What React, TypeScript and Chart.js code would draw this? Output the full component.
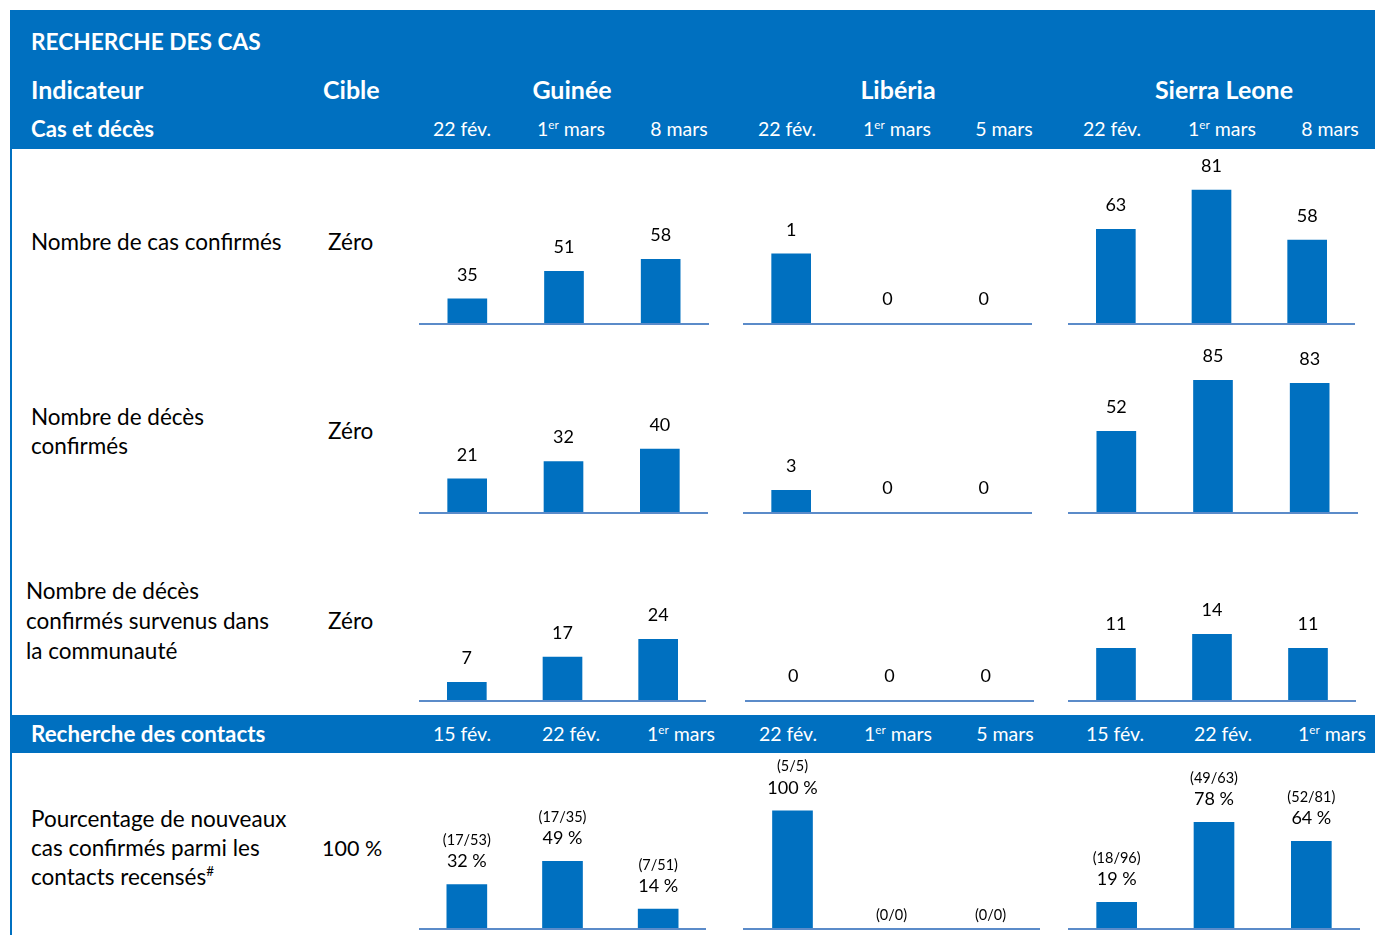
import React, { useEffect, useRef } from "react";
import { Chart, registerables } from "chart.js";
Chart.register(...registerables);

const FONT = "Lato, 'Open Sans', sans-serif";
const BLUE = "#0070C0";
const AXIS_BLUE = "#5B8BC9";

// ---- data ----
const countries = ["Guinée", "Libéria", "Sierra Leone"];
const casDates = [
  ["22 fév.", "1er mars", "8 mars"],
  ["22 fév.", "1er mars", "5 mars"],
  ["22 fév.", "1er mars", "8 mars"],
];
const contactDates = [
  ["15 fév.", "22 fév.", "1er mars"],
  ["22 fév.", "1er mars", "5 mars"],
  ["15 fév.", "22 fév.", "1er mars"],
];
const casConfirmes = [
  [35, 51, 58],
  [1, 0, 0],
  [63, 81, 58],
];
const decesConfirmes = [
  [21, 32, 40],
  [3, 0, 0],
  [52, 85, 83],
];
const decesCommunaute = [
  [7, 17, 24],
  [0, 0, 0],
  [11, 14, 11],
];
const pctContacts = [
  [32, 49, 14],
  [100, 0, 0],
  [19, 78, 64],
];
const ratioContacts = [
  ["(17/53)", "(17/35)", "(7/51)"],
  ["(5/5)", "(0/0)", "(0/0)"],
  ["(18/96)", "(49/63)", "(52/81)"],
];

// ---- layout (scales / positions) ----
type RowLayout = {
  top: number;
  baseline: number;
  xs: [number, number][];
  ranges: [number, number][];
  thickness: number;
};
const rowLayouts: RowLayout[] = [
  { top: 150, baseline: 323, xs: [[419, 709], [743, 1032], [1068, 1355]], ranges: [[21, 121.6], [0, 2.5], [20, 99.4]], thickness: 39 },
  { top: 335, baseline: 512, xs: [[419, 708], [743, 1032], [1068, 1358]], ranges: [[0, 112.4], [0, 24.5], [0, 114.2]], thickness: 39 },
  { top: 530, baseline: 700, xs: [[419, 706], [745, 1034], [1068, 1356]], ranges: [[0, 67.2], [0, 10], [0, 36.2]], thickness: 39 },
  { top: 755, baseline: 928, xs: [[419, 706], [743, 1040], [1068, 1360]], ranges: [[0, 127.2], [0, 147.5], [0, 127.7]], thickness: 40 },
];

type MiniProps = {
  left: number;
  top: number;
  width: number;
  height: number;
  labels: string[];
  values: number[];
  min: number;
  max: number;
  thickness: number;
  ratios?: string[];
};

function MiniBar(p: MiniProps) {
  const ref = useRef<HTMLCanvasElement | null>(null);
  useEffect(() => {
    if (!ref.current) return;
    const labelPlugin = {
      id: "valueLabels",
      afterDatasetsDraw(chart: any) {
        const ctx = chart.ctx;
        const meta = chart.getDatasetMeta(0);
        const area = chart.chartArea;
        ctx.save();
        // baseline
        ctx.strokeStyle = AXIS_BLUE;
        ctx.lineWidth = 2;
        ctx.beginPath();
        ctx.moveTo(area.left, area.bottom + 1);
        ctx.lineTo(area.right, area.bottom + 1);
        ctx.stroke();
        ctx.fillStyle = "#000";
        ctx.textAlign = "center";
        ctx.textBaseline = "middle";
        meta.data.forEach((el: any, i: number) => {
          const v = p.values[i];
          const x = el.x;
          const yTop = el.y;
          if (p.ratios) {
            const r = p.ratios[i];
            const empty = /\/0\)/.test(r);
            if (empty) {
              ctx.font = `14.5px ${FONT}`;
              ctx.fillText(r, x, area.bottom - 13);
            } else {
              ctx.font = `18px ${FONT}`;
              ctx.fillText(`${v} %`, x, yTop - 23);
              ctx.font = `14.5px ${FONT}`;
              ctx.fillText(r, x, yTop - 44);
            }
          } else {
            ctx.font = `18px ${FONT}`;
            ctx.fillText(String(v), x, yTop - 24);
          }
        });
        ctx.restore();
      },
    };
    const chart = new Chart(ref.current, {
      type: "bar",
      data: {
        labels: p.labels,
        datasets: [
          {
            data: p.values,
            backgroundColor: p.values.map((v) => (v > 0 ? BLUE : "rgba(0,0,0,0)")),
            borderWidth: 0,
            barThickness: p.thickness,
          },
        ],
      },
      options: {
        animation: false,
        responsive: false,
        devicePixelRatio: 1,
        layout: { padding: { left: 0, right: 0, top: 0, bottom: 3 } },
        plugins: { legend: { display: false }, tooltip: { enabled: false } },
        scales: {
          x: { display: false },
          y: { display: false, min: p.min, max: p.max },
        },
      },
      plugins: [labelPlugin],
    } as any);
    return () => chart.destroy();
  }, []);
  return (
    <canvas
      ref={ref}
      width={p.width}
      height={p.height}
      style={{ position: "absolute", left: p.left, top: p.top, width: p.width, height: p.height }}
    />
  );
}

type TProps = {
  x: number;
  y: number;
  size: number;
  bold?: boolean;
  color?: string;
  center?: boolean;
  children: React.ReactNode;
};
function T({ x, y, size, bold, color, center, children }: TProps) {
  const lh = size * 1.4;
  return (
    <div
      style={{
        position: "absolute",
        left: x,
        top: y - lh / 2,
        lineHeight: `${lh}px`,
        fontSize: size,
        fontWeight: bold ? 700 : 400,
        color: color || "#000",
        whiteSpace: "nowrap",
        transform: center ? "translateX(-50%)" : undefined,
        fontFamily: FONT,
      }}
    >
      {children}
    </div>
  );
}

function DateLabel({ text }: { text: string }) {
  if (text.startsWith("1er")) {
    return (
      <span>
        1<sup style={{ fontSize: "0.6em", verticalAlign: "0.6em", lineHeight: 0 }}>er</sup> {text.slice(4)}
      </span>
    );
  }
  return <span>{text}</span>;
}

const casDateCenters = [
  [462, 571, 679],
  [787, 897, 1004],
  [1112, 1222, 1330],
];
const contactDateCenters = [
  [462, 571, 681],
  [788, 898, 1005],
  [1115, 1223, 1332],
];
const countryCenters = [572, 898, 1224];

export default function App() {
  const rows = [casConfirmes, decesConfirmes, decesCommunaute, pctContacts];
  const charts: React.ReactNode[] = [];
  rows.forEach((rowData, r) => {
    const L = rowLayouts[r];
    rowData.forEach((vals, c) => {
      const [x0, x1] = L.xs[c];
      const labels = r === 3 ? contactDates[c] : casDates[c];
      charts.push(
        <MiniBar
          key={`${r}-${c}`}
          left={x0}
          top={L.top}
          width={x1 - x0}
          height={L.baseline - L.top + 3}
          labels={labels}
          values={vals}
          min={L.ranges[c][0]}
          max={L.ranges[c][1]}
          thickness={L.thickness}
          ratios={r === 3 ? ratioContacts[c] : undefined}
        />
      );
    });
  });

  const W = "#fff";
  const LS = 22.5;
  return (
    <div style={{ position: "absolute", left: 0, top: 0, width: 1375, height: 935, background: "#fff", overflow: "hidden", fontFamily: FONT }}>
      {/* header bands */}
      <div style={{ position: "absolute", left: 10, top: 10, width: 1365, height: 139, background: BLUE }} />
      <div style={{ position: "absolute", left: 10, top: 715, width: 1365, height: 38, background: BLUE }} />
      <div style={{ position: "absolute", left: 10, top: 149, width: 2, height: 786, background: BLUE }} />

      <T x={31} y={42} size={22.7} bold color={W}>RECHERCHE DES CAS</T>
      <T x={31} y={89} size={25} bold color={W}>Indicateur</T>
      <T x={323} y={89} size={25} bold color={W}>Cible</T>
      {countries.map((c, i) => (
        <T key={c} x={countryCenters[i]} y={89} size={25} bold color={W} center>{c}</T>
      ))}
      <T x={31} y={129} size={22.2} bold color={W}>Cas et décès</T>
      {casDates.map((ds, i) =>
        ds.map((d, j) => (
          <T key={`cd${i}${j}`} x={casDateCenters[i][j]} y={129} size={19.5} color={W} center>
            <DateLabel text={d} />
          </T>
        ))
      )}
      <T x={31} y={734} size={22.4} bold color={W}>Recherche des contacts</T>
      {contactDates.map((ds, i) =>
        ds.map((d, j) => (
          <T key={`ct${i}${j}`} x={contactDateCenters[i][j]} y={734} size={19.5} color={W} center>
            <DateLabel text={d} />
          </T>
        ))
      )}

      {/* left column */}
      <T x={31} y={242} size={LS}>Nombre de cas confirmés</T>
      <T x={328} y={242} size={LS}>Zéro</T>
      <T x={31} y={417} size={LS}>Nombre de décès</T>
      <T x={31} y={446} size={LS}>confirmés</T>
      <T x={328} y={431} size={LS}>Zéro</T>
      <T x={26} y={591} size={LS}>Nombre de décès</T>
      <T x={26} y={621} size={LS}>confirmés survenus dans</T>
      <T x={26} y={651} size={LS}>la communauté</T>
      <T x={328} y={621} size={LS}>Zéro</T>
      <T x={31} y={819} size={LS}>Pourcentage de nouveaux</T>
      <T x={31} y={848} size={LS}>cas confirmés parmi les</T>
      <T x={31} y={877} size={LS}>
        contacts recensés<sup style={{ fontSize: "0.6em", verticalAlign: "0.7em", lineHeight: 0 }}>#</sup>
      </T>
      <T x={322} y={848} size={21.5}>100 %</T>

      {charts}
    </div>
  );
}
